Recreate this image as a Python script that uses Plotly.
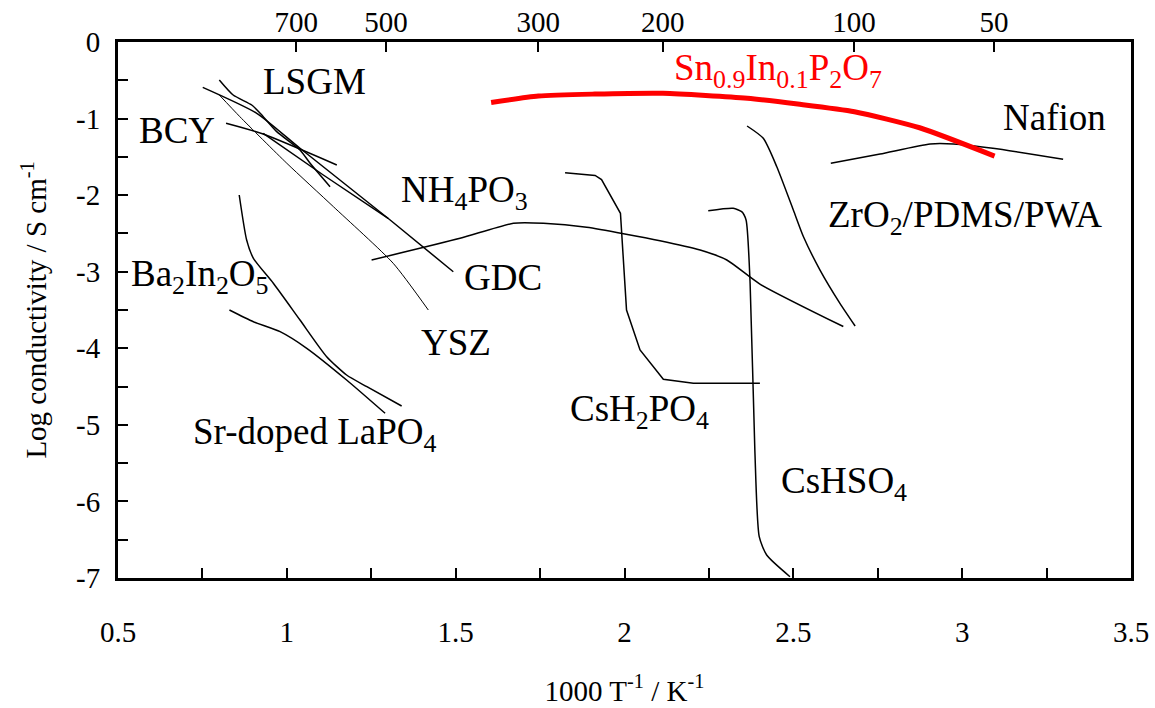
import plotly.graph_objects as go

# ---- data (x = 1000/T in K^-1, y = log conductivity / S cm^-1) ----
sn_x = [1.605, 1.745, 1.912, 2.114, 2.364, 2.513, 2.681, 2.874, 3.096]
sn_y = [-0.79, -0.705, -0.68, -0.67, -0.735, -0.81, -0.91, -1.12, -1.49]

nafion_x = [2.611, 2.757, 2.905, 2.974, 3.091, 3.299]
nafion_y = [-1.584, -1.463, -1.332, -1.332, -1.388, -1.532]

zr_x = [2.363, 2.411, 2.451, 2.500, 2.530, 2.579, 2.638, 2.683]
zr_y = [-1.097, -1.258, -1.629, -2.194, -2.543, -2.978, -3.413, -3.709]

nh4_x = [1.251, 1.513, 1.671, 1.760, 1.888, 2.105, 2.224, 2.303, 2.401, 2.648]
nh4_y = [-2.847, -2.564, -2.368, -2.368, -2.420, -2.595, -2.717, -2.847, -3.161, -3.716]

csh2_x = [1.824, 1.913, 1.932, 1.988, 2.006, 2.046, 2.115, 2.204, 2.401]
csh2_y = [-1.707, -1.743, -1.796, -2.237, -3.500, -4.022, -4.405, -4.457, -4.457]

cshs_x = [2.248, 2.322, 2.347, 2.360, 2.372, 2.386, 2.399, 2.421, 2.490]
cshs_y = [-2.203, -2.172, -2.216, -2.325, -3.152, -5.328, -6.460, -6.700, -6.983]

gdc_x = [0.751, 0.911, 1.039, 1.306, 1.493]
gdc_y = [-0.592, -0.931, -1.388, -2.325, -3.000]

bcy_x = [0.820, 0.930, 1.148]
bcy_y = [-1.062, -1.202, -1.606]

oth_x = [0.930, 1.108, 1.300]
oth_y = [-1.192, -1.737, -2.302]

lsgm_x = [0.800, 0.841, 0.896, 0.921, 0.970, 1.039, 1.069, 1.128]
lsgm_y = [-0.496, -0.692, -0.823, -0.931, -1.171, -1.410, -1.584, -1.890]

ysz_x = [0.800, 0.861, 1.000, 1.138, 1.315, 1.419]
ysz_y = [-0.692, -0.976, -1.584, -2.151, -2.890, -3.500]

bain_x = [0.859, 0.881, 0.901, 0.960, 1.039, 1.118, 1.177, 1.237, 1.340]
bain_y = [-1.998, -2.586, -2.825, -3.151, -3.631, -4.110, -4.349, -4.502, -4.754]

lapo_x = [0.830, 0.901, 0.980, 1.059, 1.177, 1.291]
lapo_y = [-3.500, -3.653, -3.783, -4.000, -4.414, -4.849]

top_temps_c = [700, 500, 300, 200, 100, 50]
top_tickvals = [1000.0 / (t + 273.15) for t in top_temps_c]

y_tickvals = [0, -1, -2, -3, -4, -5, -6, -7]
y_ticktext = ["0", "-1", "-2", "-3", "-4", "-5", "-6", "-7"]
x_tickvals = [0.5, 1.0, 1.5, 2.0, 2.5, 3.0, 3.5]
x_ticktext = ["0.5", "1", "1.5", "2", "2.5", "3", "3.5"]

labels = [
    ("LSGM", 1.082, -0.51, "black"),
    ("BCY", 0.676, -1.15, "black"),
    ("NH<sub>4</sub>PO<sub>3</sub>", 1.525, -1.96, "black"),
    ("GDC", 1.640, -3.08, "black"),
    ("YSZ", 1.501, -3.93, "black"),
    ("Ba<sub>2</sub>In<sub>2</sub>O<sub>5</sub>", 0.744, -3.06, "black"),
    ("Sr-doped LaPO<sub>4</sub>", 1.083, -5.12, "black"),
    ("CsH<sub>2</sub>PO<sub>4</sub>", 2.043, -4.83, "black"),
    ("CsHSO<sub>4</sub>", 2.650, -5.77, "black"),
    ("ZrO<sub>2</sub>/PDMS/PWA", 3.008, -2.29, "black"),
    ("Nafion", 3.272, -0.98, "black"),
    ("Sn<sub>0.9</sub>In<sub>0.1</sub>P<sub>2</sub>O<sub>7</sub>", 2.455, -0.37, "red"),
]

FONT = "Liberation Serif, Times New Roman, serif"

fig = go.Figure()

def add_line(x, y, width=1.5, color="black", shape="spline"):
    fig.add_trace(go.Scatter(x=x, y=y, mode="lines", showlegend=False,
                             line=dict(color=color, width=width, shape=shape,
                                       smoothing=0.6),
                             hoverinfo="skip"))

add_line(nh4_x, nh4_y)
add_line(csh2_x, csh2_y, shape="linear")
add_line(cshs_x, cshs_y)
add_line(zr_x, zr_y)
add_line(nafion_x, nafion_y)
add_line(gdc_x, gdc_y)
add_line(bcy_x, bcy_y)
add_line(oth_x, oth_y)
add_line(lsgm_x, lsgm_y)
add_line(ysz_x, ysz_y, width=1.0)
add_line(bain_x, bain_y)
add_line(lapo_x, lapo_y)
add_line(sn_x, sn_y, width=5, color="red")

# invisible trace so the top (temperature / degC) axis is drawn
fig.add_trace(go.Scatter(x=top_tickvals, y=[None] * len(top_tickvals),
                         xaxis="x2", yaxis="y", mode="markers",
                         marker=dict(opacity=0), showlegend=False,
                         hoverinfo="skip"))

for text, x, y, col in labels:
    fig.add_annotation(x=x, y=y, text=text, showarrow=False,
                       xanchor="center", yanchor="middle",
                       font=dict(family=FONT, size=37, color=col))

fig.update_layout(
    width=1155, height=708,
    margin=dict(l=118, r=24, t=42, b=130, autoexpand=False),
    paper_bgcolor="white", plot_bgcolor="white",
    font=dict(family=FONT, size=29, color="black"),
    xaxis=dict(range=[0.5, 3.5], tickvals=x_tickvals, ticktext=x_ticktext,
               ticks="inside", automargin=False,
               ticklen=10, tickwidth=1.5, tickcolor="black",
               showline=True, linewidth=3, linecolor="black", mirror=True,
               showgrid=False, zeroline=False, ticklabelstandoff=26,
               minor=dict(dtick=0.25, tick0=0.5, ticks="inside", ticklen=10,
                          tickwidth=1.5, tickcolor="black", showgrid=False),
               title=dict(text="1000 T<sup>-1</sup> / K<sup>-1</sup>",
                          font=dict(family=FONT, size=29), standoff=34)),
    xaxis2=dict(range=[0.5, 3.5], overlaying="x", side="top", anchor="y",
                tickvals=top_tickvals, ticktext=[str(t) for t in top_temps_c],
                ticks="inside", ticklen=10, tickwidth=1.5, tickcolor="black",
                showline=True, linewidth=3, linecolor="black", automargin=False,
                showgrid=False, zeroline=False, ticklabelstandoff=-5),
    yaxis=dict(range=[-7, 0], tickvals=y_tickvals, ticktext=y_ticktext,
               ticks="inside", ticklen=10, automargin=False,
               tickwidth=1.5, tickcolor="black",
               showline=True, linewidth=3, linecolor="black", mirror=True,
               showgrid=False, zeroline=False, ticklabelstandoff=9,
               minor=dict(dtick=0.5, tick0=0, ticks="inside", ticklen=10,
                          tickwidth=1.5, tickcolor="black", showgrid=False),
               title=dict(text="Log conductivity / S cm<sup>-1</sup>",
                          font=dict(family=FONT, size=29), standoff=21)),
)

fig.write_html("out.html")
